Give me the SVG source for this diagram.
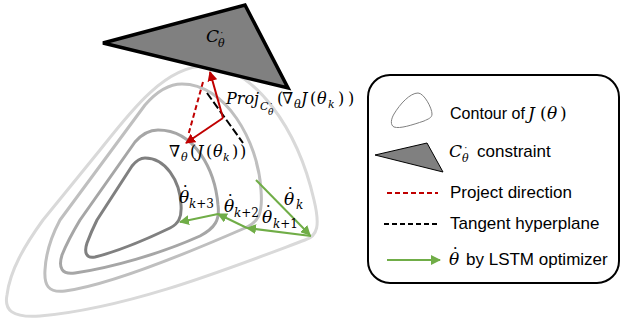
<svg xmlns="http://www.w3.org/2000/svg" width="621" height="322" viewBox="0 0 621 322">
<defs>
<style>
.math{font-family:"DejaVu Serif","Liberation Serif",serif;font-style:italic;fill:#000}
.n{font-style:normal}
.lg{font-family:"Liberation Sans",Arial,sans-serif;font-size:17px;fill:#000}
.contour{fill:none;stroke-width:3;stroke-linejoin:round}
.red{stroke:#c00000;stroke-width:2;fill:none}
.green{stroke:#70ad47;stroke-width:2;fill:none}
</style>
<marker id="ar" viewBox="0 0 10 10" refX="9" refY="5" markerWidth="10" markerHeight="10" markerUnits="userSpaceOnUse" orient="auto">
<path d="M0,0 L10,5 L0,10 Z" fill="#c00000"/>
</marker>
<marker id="ag" viewBox="0 0 10 10" refX="9" refY="5" markerWidth="10" markerHeight="10" markerUnits="userSpaceOnUse" orient="auto">
<path d="M0,0 L10,5 L0,10 Z" fill="#70ad47"/>
</marker>
</defs>
<rect width="621" height="322" fill="#fff"/>

<g id="contours">
<path class="contour" stroke="#d9d9d9" d="M205,66 C255,66 298,130 314,200 C320,225 318,236 305,240 C230,268 130,308 40,316 C12,318 4,310 7,295 C10,270 25,245 43,220 L100,150 C130,112 165,66 205,66 Z"/>
<path class="contour" stroke="#bfbfbf" d="M182,84 C225,84 258,140 261,190 C263,215 258,222 245,228 C190,252 110,285 65,291 C48,293 44,285 45,270 C46,250 52,235 60,220 L145,105 C158,90 170,84 182,84 Z"/>
<path class="contour" stroke="#a6a6a6" d="M158,130 C195,130 215,170 218,205 C220,220 215,228 200,236 C160,254 110,268 75,273 C62,275 58,268 62,255 C68,240 74,230 80,220 L135,142 C142,134 150,130 158,130 Z"/>
<path class="contour" stroke="#808080" d="M145,158 C165,158 180,180 181,205 C182,218 178,224 170,228 C145,240 115,252 95,257 C86,259 84,252 87,243 C90,235 93,228 97,220 L132,166 C136,161 140,158 145,158 Z"/>
</g>

<g id="constraint">
<path d="M103,43 L245,5 L288,88 Z" fill="#808080" stroke="#000" stroke-width="3.5" stroke-linejoin="miter"/>
<text class="math" font-size="17" x="206" y="42">C<tspan x="218" y="47" font-size="11">θ</tspan><tspan x="219" y="41" font-size="11" class="n">˙</tspan></text>
</g>

<g id="connectors">
<line class="red" x1="203" y1="82" x2="188" y2="136" stroke-dasharray="5,3"/>
<line x1="207" y1="93" x2="243" y2="143" stroke="#000" stroke-width="2" stroke-dasharray="8,3"/>
<line class="red" x1="223" y1="118" x2="210" y2="72" marker-end="url(#ar)"/>
<line class="red" x1="223" y1="118" x2="186" y2="143" marker-end="url(#ar)"/>
<line class="green" x1="256" y1="180" x2="310" y2="235" marker-end="url(#ag)"/>
<line class="green" x1="311" y1="236" x2="247" y2="228" marker-end="url(#ag)"/>
<line class="green" x1="247" y1="228" x2="218" y2="214" marker-end="url(#ag)"/>
<line class="green" x1="218" y1="214" x2="180" y2="222" marker-end="url(#ag)"/>
</g>

<g id="labels">
<text class="math" font-size="16" y="104"><tspan x="226">Proj</tspan><tspan x="260" y="110" font-size="11">C</tspan><tspan x="268" y="115" font-size="9">θ</tspan><tspan x="269" y="110" font-size="9" class="n">˙</tspan><tspan x="277" y="104" class="n">(</tspan><tspan x="282">∇</tspan><tspan x="294" y="108" font-size="11">θ</tspan><tspan x="301" y="104">J</tspan><tspan x="310" class="n">(</tspan><tspan x="317">θ</tspan><tspan x="328" y="108" font-size="11">k</tspan><tspan x="338" y="104" class="n">)</tspan><tspan x="348" class="n">)</tspan></text>
<text class="math" font-size="16" y="157"><tspan x="169">∇</tspan><tspan x="181" y="161" font-size="11">θ</tspan><tspan x="190" y="157" class="n">(</tspan><tspan x="197">J</tspan><tspan x="206" class="n">(</tspan><tspan x="213">θ</tspan><tspan x="223" y="161" font-size="11">k</tspan><tspan x="232" y="157" class="n">)</tspan><tspan x="240" class="n">)</tspan></text>
<text class="math" font-size="17" x="284" y="205">θ<tspan x="286" y="200" class="n">˙</tspan><tspan x="296" y="209" font-size="12">k</tspan></text>
<text class="math" font-size="17" x="262" y="223">θ<tspan x="264" y="218" class="n">˙</tspan><tspan x="273" y="228" font-size="12">k<tspan class="n">+1</tspan></tspan></text>
<text class="math" font-size="17" x="224" y="212">θ<tspan x="226" y="207" class="n">˙</tspan><tspan x="234" y="217" font-size="12">k<tspan class="n">+2</tspan></tspan></text>
<text class="math" font-size="17" x="179" y="203">θ<tspan x="181" y="198" class="n">˙</tspan><tspan x="189" y="208" font-size="12">k<tspan class="n">+3</tspan></tspan></text>
</g>

<g id="legend">
<rect x="368" y="75" width="251" height="208" rx="22" ry="22" fill="#fff" stroke="#000" stroke-width="2"/>
<path d="M418,93 C424,93 432,108 432,114 C432,118 428,119 424,121 C412,125 400,129 394,127 C390,125 391,119 394,114 C400,104 410,93 418,93 Z" fill="none" stroke="#808080" stroke-width="1"/>
<text class="lg" x="450" y="119" textLength="75" lengthAdjust="spacingAndGlyphs">Contour of</text>
<text class="math" font-size="17" y="119"><tspan x="528">J</tspan><tspan x="540" class="n">(</tspan><tspan x="547">θ</tspan><tspan x="560" class="n">)</tspan></text>
<path d="M375,155 L427,143 L443,172 Z" fill="#808080" stroke="#000" stroke-width="1"/>
<text class="math" font-size="17" x="449" y="157">C<tspan x="462" y="162" font-size="11">θ</tspan><tspan x="463" y="156" font-size="11" class="n">˙</tspan></text>
<text class="lg" x="477" y="157">constraint</text>
<line x1="387" y1="193" x2="438" y2="193" stroke="#c00000" stroke-width="2" stroke-dasharray="5,3"/>
<text class="lg" x="450" y="198">Project direction</text>
<line x1="384" y1="224" x2="440" y2="224" stroke="#000" stroke-width="2" stroke-dasharray="5,3"/>
<text class="lg" x="450" y="229">Tangent hyperplane</text>
<line x1="387" y1="260" x2="440" y2="260" stroke="#70ad47" stroke-width="2" marker-end="url(#ag)"/>
<text class="math" font-size="17" x="449" y="265">θ<tspan x="451" y="260" class="n">˙</tspan></text>
<text class="lg" x="466" y="265">by LSTM optimizer</text>
</g>
</svg>
